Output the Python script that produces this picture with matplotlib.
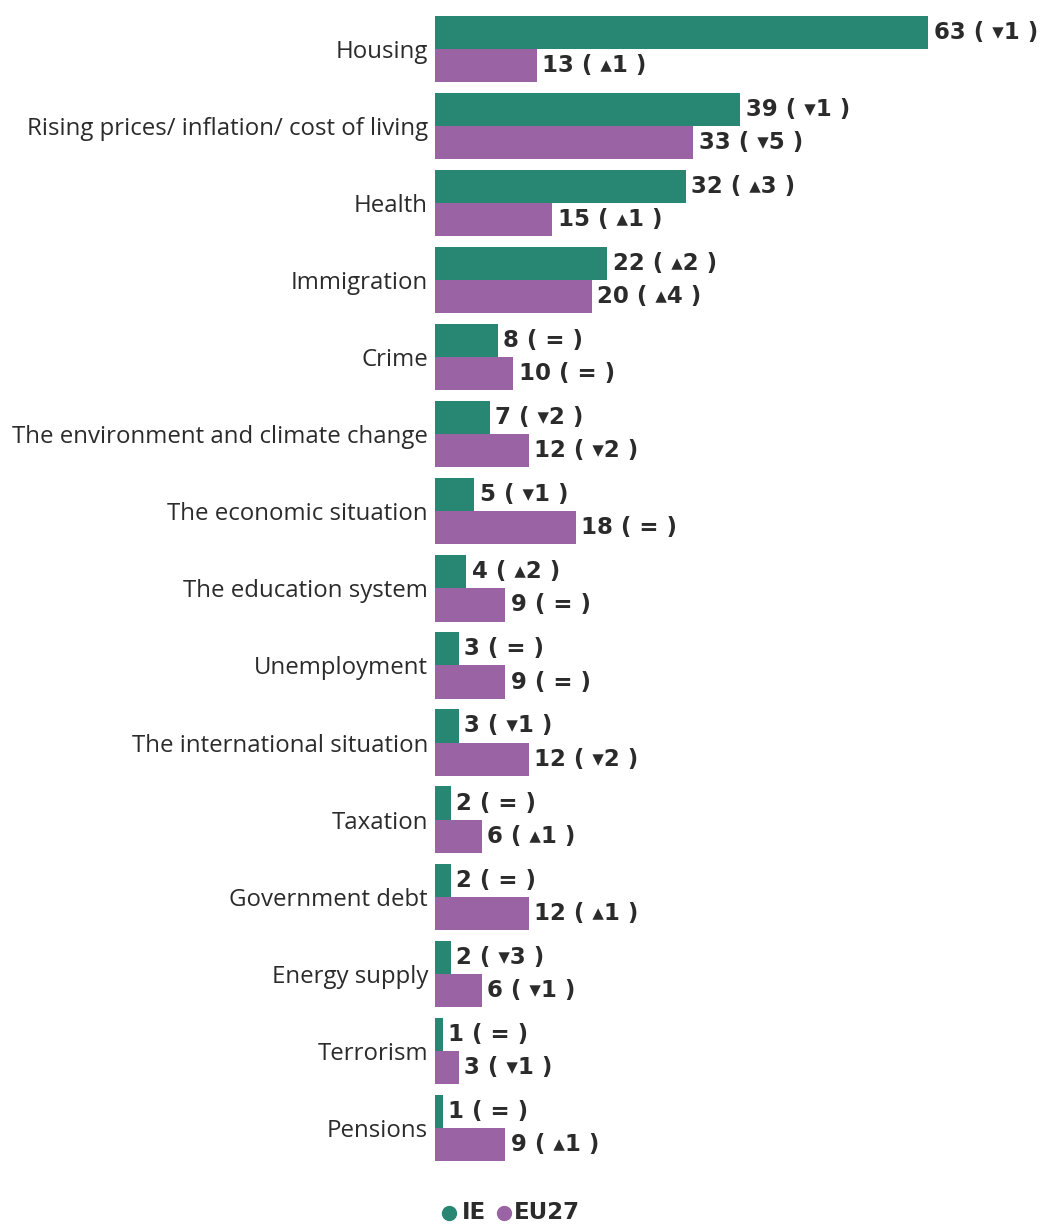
import matplotlib.pyplot as plt
from matplotlib.lines import Line2D
import numpy as np

categories = ["Housing", "Rising prices/ inflation/ cost of living", "Health",
              "Immigration", "Crime", "The environment and climate change",
              "The economic situation", "The education system", "Unemployment",
              "The international situation", "Taxation", "Government debt",
              "Energy supply", "Terrorism", "Pensions"]
ie_vals = [63, 39, 32, 22, 8, 7, 5, 4, 3, 3, 2, 2, 2, 1, 1]
ie_change = [-1, -1, 3, 2, 0, -2, -1, 2, 0, -1, 0, 0, -3, 0, 0]
eu_vals = [13, 33, 15, 20, 10, 12, 18, 9, 9, 12, 6, 12, 6, 3, 9]
eu_change = [1, -5, 1, 4, 0, -2, 0, 0, 0, -2, 1, 1, -1, -1, 1]

green = "#288772"
purple = "#9a63a3"
dark = "#2b2b2b"

plt.rcParams['font.family'] = ['Open Sans', 'DejaVu Sans']


def fmt(v, c):
    if c == 0:
        return f"{v} ( = )"
    arrow = "\u25b4" if c > 0 else "\u25be"
    return f"{v} ( {arrow}{abs(c)} )"


fig = plt.figure(figsize=(10.47, 12.25), dpi=100)
ax = fig.add_axes([0.4155, 0.0478, 0.5833, 0.9437])

y = np.arange(len(categories))
h = 0.43
ax.barh(y - h / 2, ie_vals, height=h, color=green)
ax.barh(y + h / 2, eu_vals, height=h, color=purple)

for i in range(len(categories)):
    ax.text(ie_vals[i] + 0.7, y[i] - h / 2, fmt(ie_vals[i], ie_change[i]),
            va='center', ha='left', fontsize=16.5, fontweight='bold', color=dark,
            family=['DejaVu Sans'])
    ax.text(eu_vals[i] + 0.7, y[i] + h / 2, fmt(eu_vals[i], eu_change[i]),
            va='center', ha='left', fontsize=16.5, fontweight='bold', color=dark,
            family=['DejaVu Sans'])

ax.set_xlim(0, 78)
ax.set_ylim(len(categories) - 0.5, -0.5)
ax.set_yticks(y)
ax.set_yticklabels(categories, fontsize=17.3, color=dark)
ax.tick_params(axis='y', length=0, pad=5)
ax.set_xticks([])
for s in ax.spines.values():
    s.set_visible(False)

# legend
ly = 0.0098
fig.add_artist(Line2D([0.4289], [ly], marker='o', markersize=10, color=green,
                      linestyle='none', transform=fig.transFigure))
fig.text(0.4413, ly, "IE", color=dark, fontsize=16.5, fontweight='bold', va='center', ha='left',
         family=['DejaVu Sans'])
fig.add_artist(Line2D([0.4814], [ly], marker='o', markersize=10, color=purple,
                      linestyle='none', transform=fig.transFigure))
fig.text(0.4909, ly, "EU27", color=dark, fontsize=16.5, fontweight='bold', va='center', ha='left',
         family=['DejaVu Sans'])

fig.savefig("out.png", dpi=100)
